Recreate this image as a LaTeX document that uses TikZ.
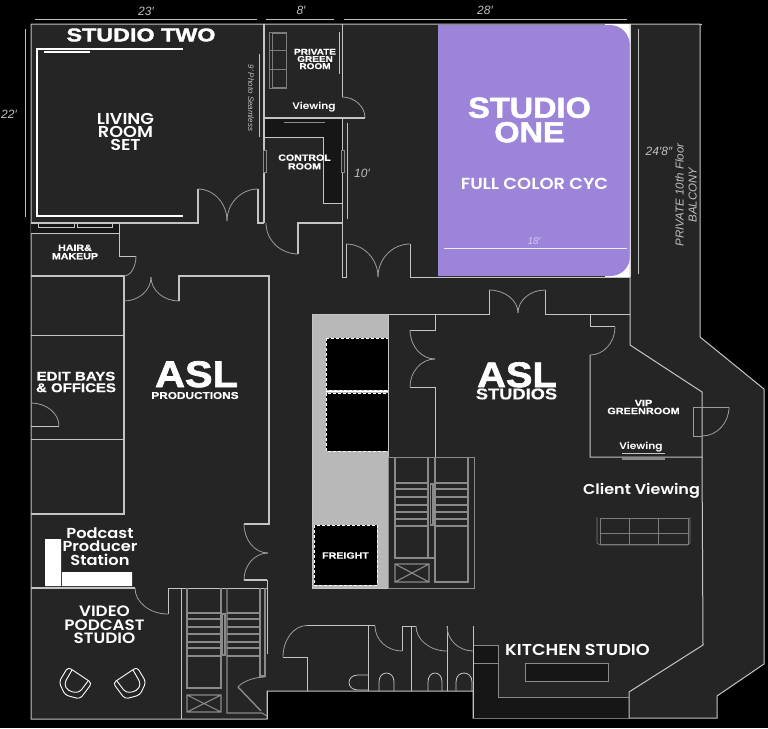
\documentclass[tikz,border=0pt]{standalone}
\usepackage{fontspec}
\usetikzlibrary{calc}
\setmainfont{Liberation Sans}
\newfontfamily\ext[FakeStretch=1.18,FakeBold=0.6]{Liberation Sans Bold}
\newfontfamily\blk[FakeStretch=1.12,FakeBold=1.8]{Liberation Sans Bold}
\newfontfamily\blkw[FakeStretch=1.26,FakeBold=1.8]{Liberation Sans Bold}
\newfontfamily\gth[FakeStretch=1.12]{Poppins SemiBold}
\newfontfamily\dimf{Liberation Sans Italic}
\newcommand{\fs}[2]{\fontsize{#1}{#2}\selectfont}
\definecolor{floorc}{HTML}{252525}
\definecolor{wallc}{HTML}{C4C4C0}
\definecolor{stairc}{HTML}{8A8A8A}
\definecolor{darkc}{HTML}{161616}
\definecolor{cyc}{HTML}{9C85D9}
\definecolor{dimc}{HTML}{C0C0C0}
\definecolor{freightc}{HTML}{B8B8B8}
\tikzset{
  wall/.style={draw=wallc,line width=1pt},
  thick wall/.style={draw=wallc,line width=1.3pt},
  door/.style={draw=wallc!80!black,line width=0.8pt},
  dimline/.style={draw=dimc,line width=0.8pt},
  stair/.style={draw=stairc,line width=1.1pt},
  sofa/.style={draw=wallc!55!floorc,line width=0.6pt},
  whiteline/.style={draw=white,line width=1.1pt},
  lbl/.style={text=white,align=center,inner sep=0pt},
  big/.style={lbl,text height=27pt,text depth=0pt},
  dimtxt/.style={text=dimc,inner sep=0pt,align=center,font=\dimf\fs{12}{12}},
  liftbox/.style={fill=black,draw=white,densely dashed,line width=0.7pt}
}
\newcommand{\qa}[3]{\draw[door] (#1) .. controls ($(#1)!0.55!(#2)$) and ($(#3)!0.55!(#2)$) .. (#3);}
\begin{document}
\begin{tikzpicture}[x=1pt,y=-1pt]
\useasboundingbox (0,0) rectangle (768,728);
\fill[black] (0,0) rectangle (768,728);
% floor
\fill[floorc] (31,24)--(700,24)--(700,337)--(764,389)--(764,664)--(717,696)--(717,718)--(473,718)--(473,691)--(267,691)--(267,719)--(31,719)--cycle;
\draw[wall] (31,24)--(31,719)--(267,719)--(267,691)--(473,691)--(473,718)--(717,718)--(717,696)--(764,664)--(764,389)--(700,337)--(700,24)--(31,24);
\draw[wall] (700,24)--(702,24);
% studio one
\fill[white] (605,24) rectangle (631,277);
\fill[cyc] (438,25)--(610,25) .. controls (621,25) and (630,34) .. (630,46)--(630,256) .. controls (630,268) and (621,276) .. (610,276)--(438,276)--cycle;
\draw[draw=white!85!cyc,line width=0.8pt] (444,248)--(627,248);
% dark zones
\fill[darkc] (264,118)--(342,118)--(342,203)--(323,203)--(323,137)--(264,137)--cycle;
\draw[wall,line width=0.7pt] (264,137)--(323,137)--(323,203)--(342,203);
\fill[darkc] (31,223) rectangle (119,233);
\draw[wall,line width=0.7pt] (31,233)--(119,233);
\draw[wall,line width=0.6pt] (38,223) rectangle (74,227) (77,223) rectangle (112,227);
\draw[wall,line width=0.8pt,draw=stairc] (284,122)--(325,122);
\fill[darkc] (474,645)--(498,645)--(498,697)--(629,697)--(629,718)--(474,718)--cycle;
\draw[wall,line width=0.7pt,draw=stairc] (474,645)--(498,645)--(498,697)--(629,697);
\draw[wall,line width=0.7pt,draw=stairc] (474,663)--(498,663);
\draw[fill=darkc,draw=stairc,line width=0.7pt] (525,663) rectangle (608,681);
% walls, upper left
\draw[thick wall] (31,223)--(198,223)--(198,189);
\draw[thick wall] (258,189)--(258,223)--(264,223);
\draw[thick wall] (264,24)--(264,223);
\draw[thick wall] (264,118)--(365,118);
\draw[wall] (342,24)--(342,97);
\draw[wall] (342,118)--(342,277)--(346,277)--(346,244);
\draw[wall] (410,244)--(410,277)--(630,277);
\draw[thick wall] (342,223)--(298,223)--(298,254);
\qa{198,189}{227,189}{227,221}
\qa{258,189}{227,189}{227,221}
\qa{342,97}{365,97}{365,118}
\qa{266,223}{266,254}{298,254}
\qa{346,244}{378,244}{378,277}
\qa{410,244}{378,244}{378,277}
\draw[fill=floorc,draw=stairc,line width=0.8pt] (263,150) rectangle (266,172) (341,150) rectangle (344,172);
% hair and edit bays
\draw[wall] (119,223)--(119,256)--(136,256);
\draw[thick wall] (31,276)--(124,276)--(124,514)--(31,514);
\draw[thick wall] (179,301)--(179,276)--(269,276)--(269,524)--(244,524);
\draw[thick wall] (244,580)--(267,580);
\draw[wall] (31,335)--(123,335) (31,439)--(123,439);
\draw[wall] (31,426)--(59,426);
\qa{136,256}{136,276}{124,276}
\qa{124,301}{151,301}{151,277}
\qa{179,301}{151,301}{151,277}
\qa{31,403}{59,403}{59,426}
\qa{244,524}{244,553}{268,553}
\qa{244,580}{244,553}{268,553}
% podcast
\fill[white] (45,539) rectangle (61,586) (62,572) rectangle (132,586);
\draw[thick wall] (31,588)--(135,588);
\draw[wall] (168,614)--(168,588)--(267,588);
\draw[wall] (181,588)--(181,719);
\draw[wall] (267,580)--(267,654) (267,691)--(267,719);
\qa{135,588}{135,614}{168,614}
% stairs 1
\draw[stair] (187,588)--(187,688)--(221,688)--(221,588);
\draw[stair] (227,588)--(227,713)--(262,713)--(267,716);
\draw[stair] (260,588)--(260,676)--(265,676)--(265,588);
\draw[stair] (222.5,614) rectangle (225,655);
\foreach \y in {613,619,627,634,642,648,656}{\draw[stair] (187,\y)--(221,\y) (227,\y)--(260,\y);}
\draw[stair] (187,695) rectangle (221,712) (187,695)--(221,712) (221,695)--(187,712);
\draw[stair,line width=1.4pt] (238,687)--(261,711);
\qa{238,687}{246,677}{265,677}
% freight
\fill[freightc] (312,314) rectangle (388,588);
\draw[wall] (312,314)--(312,588)--(388,588);
\draw[liftbox] (326,338) rectangle (388,390);
\draw[liftbox] (326,393) rectangle (388,451);
\draw[white,line width=1.6pt] (326,391.5)--(388,391.5);
\draw[liftbox] (314,525) rectangle (377,585);
% middle walls
\draw[wall] (312,314)--(489,314)--(489,290);
\draw[wall] (545,290)--(545,314)--(630,314);
\draw[wall] (388,314)--(388,457);
\draw[wall] (435,314)--(435,330)--(410,330);
\draw[wall] (410,387)--(435,387)--(435,457);
\qa{489,290}{518,290}{518,313}
\qa{545,290}{518,290}{518,313}
\qa{410,330}{410,359}{435,359}
\qa{410,387}{410,359}{435,359}
% stairs 2
\draw[wall,draw=stairc] (388,457)--(474,457)--(474,588)--(388,588)--(388,457);
\draw[stair] (395,457)--(395,558)--(435,558);
\draw[stair] (428,457)--(428,558);
\draw[stair] (435,457)--(435,582)--(468,582)--(468,457);
\draw[stair] (430.5,484) rectangle (433,525);
\foreach \y in {483,489,497,505,512,519,526}{\draw[stair] (395,\y)--(428,\y) (435,\y)--(468,\y);}
\draw[stair] (395,564) rectangle (429,582) (395,564)--(429,582) (429,564)--(395,582);
% right side
\draw[wall] (630,24)--(630,345)--(702,392)--(702,457)--(590,457)--(590,355);
\draw[wall] (702,457)--(703,645)--(629,692)--(629,718);
\draw[wall] (590,314)--(590,326.5)--(615,326.5);
\qa{615,327}{615,355}{590,355}
\draw[door] (729,407)--(693,407)--(693,436)--(702,436);
\qa{729,407}{729,436}{702,436}
\draw[wall,line width=0.8pt] (622,453)--(665,453);
\draw[stair] (622,459)--(665,459);
% sofas
\draw[sofa] (597,517)--(597,543)--(600,545)--(688,545)--(690,543)--(690,517);
\draw[sofa,line width=0.8pt] (600,518) rectangle (688,544) (600,533)--(688,533) (629,518)--(629,544) (658,518)--(658,544);
\draw[sofa] (269,32) rectangle (286,88);
\draw[sofa] (272,33) rectangle (286,87) (269,50)--(286,50) (269,69)--(286,69);
% bottom rooms
\draw[wall] (283,657)--(307,657)--(307,691);
\draw[wall] (307,625.5)--(375,625.5);
\draw[wall] (368,625.5)--(368,691);
\draw[wall] (402,651)--(402,626)--(416,626);
\draw[wall] (411,626)--(411,691);
\draw[wall] (447,626)--(447,691);
\draw[wall] (473.5,626)--(473.5,718);
\qa{283,657}{283,625.5}{307,625.5}
\qa{375,626}{375,651}{402,651}
\qa{416,626}{416,651}{447,651}
\qa{447,626}{447,651}{473,651}
\foreach \a/\b in {379/394,428/442,456/472}{
  \draw[wall,line width=0.8pt] (\a,691)--(\a,682) .. controls (\a,670) and (\b,670) .. (\b,682)--(\b,691);}
\draw[wall,line width=0.8pt] (368,675)--(358,675) .. controls (346,675) and (346,690) .. (358,690)--(368,690);
% chairs
\foreach \sx/\ox in {1/0,-1/205}{
  \begin{scope}[cm={\sx,0,0,1,(\ox pt,0pt)}]
  \draw[white,line width=0.9pt,rounded corners=3.5pt] (68,667)--(92,683)--(80,699)--(65,695)--(59,682)--cycle;
  \draw[white,line width=0.9pt,rounded corners=4pt] (72,670)--(64,684)--(68,691)--(79,693)--(88,681);
  \end{scope}}
% dimensions
\draw[dimline] (35,19)--(257,19);
\draw[dimline] (266,19)--(334,19);
\draw[dimline] (344,19)--(627,19);
\draw[dimline] (25,29)--(25,217);
\draw[dimline] (347,123)--(347,219);
\draw[dimline] (638.5,29)--(638.5,274);
\draw[dimline] (259.5,54)--(259.5,137);
\draw[wall,line width=0.8pt] (339.5,32)--(339.5,74);
% living room set
\draw[whiteline] (183,49)--(37,49)--(37,216)--(183,216);
\draw[whiteline] (44,52)--(90,52);
% labels
\node[dimtxt] (d23) at (146,11) {23′};
\node[dimtxt] (d8) at (301,10) {8′};
\node[dimtxt] (d28) at (485,10) {28′};
\node[dimtxt] (d22) at (9,114) {22′};
\node[dimtxt] (d10) at (362,173) {10′};
\node[dimtxt] (d248) at (659,151) {24′8″};
\node[dimtxt,font=\fontsize{10}{10}\selectfont\dimf,text=white!55!cyc] (d18) at (534,241) {18′};
\node[dimtxt,rotate=-90,font=\dimf\fs{8}{8}] (seam) at (251,98) {9′ Photo Seamless};
\node[dimtxt,rotate=90,font=\dimf\fs{11.5}{13}] (balc) at (686,195) {PRIVATE 10th Floor\\BALCONY};
\node[lbl,font=\blkw\fs{18.5}{18}] (st2) at (141,35) {STUDIO TWO};
\node[lbl,font=\gth\fs{15.8}{13.2}] (liv) at (125.5,132) {LIVING\\ROOM\\SET};
\node[lbl,font=\ext\fs{8.5}{7.2}] (pgr) at (315,59) {PRIVATE\\GREEN\\ROOM};
\node[lbl,font=\gth\fs{9.5}{10}] (view1) at (314,107) {Viewing};
\node[lbl,font=\ext\fs{9}{8.7}] (ctrl) at (304.5,162) {CONTROL\\ROOM};
\node[lbl,font=\ext\fs{9}{8.4}] (hair) at (75,252) {HAIR\&\\MAKEUP};
\node[lbl,font=\blk\fs{29}{24.5}] (st1) at (529.5,120) {STUDIO\\ONE};
\node[lbl,font=\gth\fs{16}{16}] (cyc) at (534.5,184) {FULL COLOR CYC};
\node[lbl,font=\ext\fs{12.7}{11.5}] (edit) at (76,382) {EDIT BAYS\\\& OFFICES};
\node[big,font=\blk\fs{37}{37}] (asl1) at (196.5,373.5) {ASL};
\node[lbl,font=\ext\fs{10}{11}] (prod) at (195,395.5) {PRODUCTIONS};
\node[big,font=\blk\fs{35.5}{37}] (asl2) at (517,373.5) {ASL};
\node[lbl,font=\ext\fs{15.5}{15}] (studs) at (516.5,394) {STUDIOS};
\node[lbl,font=\ext\fs{9.2}{8}] (vip) at (643.5,407) {VIP\\GREENROOM};
\node[lbl,font=\gth\fs{9.5}{10}] (view2) at (641,447) {Viewing};
\node[lbl,font=\gth\fs{14.3}{14}] (client) at (641.5,491) {Client Viewing};
\node[lbl,font=\ext\fs{9}{9}] (fre) at (345.5,555.5) {FREIGHT};
\node[lbl,font=\gth\fs{14.5}{13.5}] (podp) at (100,546.5) {Podcast\\Producer\\Station};
\node[lbl,font=\gth\fs{15}{13.3}] (vid) at (104.5,625) {VIDEO\\PODCAST\\STUDIO};
\node[lbl,font=\gth\fs{15.8}{14}] (kit) at (577.5,649.5) {KITCHEN STUDIO};
\end{tikzpicture}
\end{document}
